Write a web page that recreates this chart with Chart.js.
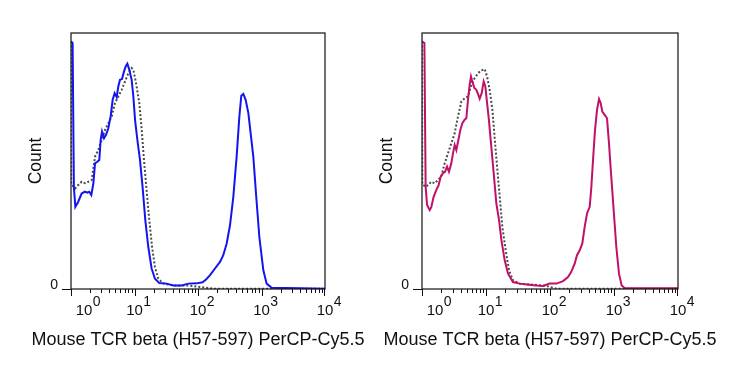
<!DOCTYPE html>
<html>
<head>
<meta charset="utf-8">
<script src="https://cdn.jsdelivr.net/npm/chart.js@4"></script>
<style>
  body { margin: 0; background: #fff; }
  #wrap { position: relative; width: 747px; height: 390px; }
  canvas { position: absolute; top: 0; }
</style>
</head>
<body>
<div id="wrap">
  <canvas id="histA" width="370" height="390" style="left:0px"></canvas>
  <canvas id="histB" width="372" height="390" style="left:351px"></canvas>
</div>
<script>
// values (x = fluorescence, y = % of max count)
const tickDecades = [1, 10, 100, 1000, 10000];
const tickLabels = ['0', '1', '2', '3', '4'];
const axisTitle = 'Mouse TCR beta (H57-597) PerCP-Cy5.5';
const yTitle = 'Count';

const stainA_x = [1.0,1.06,1.11,1.17,1.30,1.47,1.66,1.81,1.94,2.09,2.25,2.39,2.60,2.79,2.93,3.08,3.31,3.56,3.87,4.21,4.53,4.87,5.24,5.56,5.91,6.36,6.84,7.26,7.72,8.29,9.02,9.59,10.2,11.1,12.2,13.4,14.8,16.5,18.6,21.0,24.6,32.1,40.9,55.3,70.5,95.3,118,134,155,185,222,250,283,319,360,406,448,481,517,563,621,675,743,819,924,1069,1206,1445,4036,10000];
const stainA_y = [96.7,96.1,39.9,32.1,34.1,37.3,38.0,37.6,38.0,36.7,41.3,49.1,49.7,50.4,58.2,61.5,58.9,60.2,62.8,67.4,73.9,76.5,74.9,79.1,81.7,82.0,85.0,86.9,88.0,85.6,81.7,75.2,66.1,58.2,50.4,39.9,26.9,16.4,8.0,4.0,2.3,2.1,1.4,1.4,2.1,2.2,2.6,3.7,5.4,8.0,10.6,13.2,17.8,24.9,36.0,51.7,67.4,75.5,76.2,73.9,68.7,60.8,51.7,37.3,20.4,7.3,2.1,0.5,0.3,0.1];
const ctrlA_x = [1.0,1.01,1.16,1.30,1.47,1.66,1.87,2.12,2.39,2.69,3.04,3.43,3.87,4.37,4.93,5.56,6.28,7.09,8.00,9.02,9.59,10.2,10.8,11.9,13.0,14.1,15.5,17.1,18.9,21.0,23.7,28.5,40.9,66.4,107,174,10000];
const ctrlA_y = [96.7,41,39.3,40.6,41.9,41.3,41.9,42.6,51.7,54.3,58.2,62.1,64.8,67.4,72.6,75.2,77.8,81.1,84.3,86.3,85.6,82.4,79.1,72.6,62.1,50.4,38.6,26.9,16.4,8.6,4.0,2.1,1.4,1.4,0.8,0.1,0.1];

const stainB_x = [1.0,1.09,1.14,1.20,1.32,1.40,1.52,1.67,1.82,1.96,2.13,2.29,2.46,2.64,2.87,3.05,3.24,3.44,3.79,3.97,4.27,4.64,4.93,5.23,5.56,5.83,6.11,6.57,7.06,7.59,7.96,8.56,9.20,9.77,10.4,11.1,12.1,13.2,14.5,16.0,17.4,19.6,22.1,26.4,33.6,42.7,61.1,77.8,98.8,126,160,191,215,243,264,291,320,348,379,417,443,470,505,543,583,619,657,715,778,835,898,988,1087,1197,1318,1468,3606,10000];
const stainB_y = [96.7,96.1,39.9,32.8,30.8,32.1,36.0,38.6,40.6,43.9,45.2,45.8,47.8,45.8,49.1,53.0,56.3,54.3,59.5,62.1,64.8,66.1,66.7,73.9,79.8,83.0,81.1,78.5,77.8,75.8,74.3,76.5,81.1,79.1,72.6,66.1,55.6,45.2,33.4,26.9,19.1,11.2,6.0,2.7,2.1,1.8,1.4,1.2,2.1,2.1,3.1,4.7,6.7,9.9,13.2,15.1,17.8,24.3,29.5,32.1,39.9,50.4,62.1,70.0,74.2,72.6,69.3,68.0,66.7,56.9,45.2,30.8,16.4,6.0,1.4,0.4,0.3,0.3];
const ctrlB_x = [1.0,1.01,1.14,1.24,1.40,1.58,1.78,2.00,2.26,2.55,2.87,3.24,3.65,4.12,4.64,5.23,5.90,6.65,7.50,8.45,9.53,10.4,11.4,12.6,13.6,14.9,16.4,18.0,20.3,22.9,26.4,33.6,54.2,87.6,126,10000];
const ctrlB_y = [96.7,41,39.9,40.6,41.9,41.3,42.6,43.9,49.1,53.0,56.9,60.8,67.4,73.2,74.5,75.2,79.8,82.4,84.3,85.4,85.9,83.0,77.8,70.0,59.5,47.8,36.0,24.3,15.1,7.3,3.4,2.1,1.7,1.2,0.1,0.1];

const FONT = '"Liberation Sans", Arial, sans-serif';

function pts(xs, ys) {
  return xs.map((x, i) => ({ x: x, y: ys[i] }));
}

// box, ticks and all text of the FlowJo style plot
const flowAxes = {
  id: 'flowAxes',
  afterDraw(chart) {
    const ctx = chart.ctx;
    const a = chart.chartArea;
    const xs = chart.scales.x, ys = chart.scales.y;
    const y0 = ys.getPixelForValue(0);
    ctx.save();
    ctx.strokeStyle = '#111';
    ctx.lineWidth = 1.2;
    ctx.strokeRect(a.left, a.top, a.right - a.left, a.bottom - a.top);

    ctx.lineWidth = 1;
    ctx.beginPath();
    for (let d = 0; d < 4; d++) {
      for (let k = 1; k <= 9; k++) {
        const px = Math.round(xs.getPixelForValue(k * tickDecades[d])) + 0.5;
        ctx.moveTo(px, a.bottom);
        ctx.lineTo(px, a.bottom + (k === 1 ? 7 : 4));
      }
    }
    const pxEnd = Math.round(xs.getPixelForValue(tickDecades[4])) - 0.5;
    ctx.moveTo(pxEnd, a.bottom);
    ctx.lineTo(pxEnd, a.bottom + 7);
    // y tick at zero
    ctx.moveTo(a.left - 9, Math.round(y0) + 0.5);
    ctx.lineTo(a.left, Math.round(y0) + 0.5);
    ctx.stroke();

    ctx.fillStyle = '#111';
    ctx.textBaseline = 'alphabetic';
    ctx.textAlign = 'left';
    tickDecades.forEach((v, i) => {
      let cx = xs.getPixelForValue(v);
      if (i === 0) cx += 13;
      ctx.font = '15px ' + FONT;
      const w = ctx.measureText('10').width;
      ctx.fillText('10', cx - w / 2, 315);
      ctx.font = '14px ' + FONT;
      ctx.fillText(tickLabels[i], cx + w / 2 + 0.5, 306);
    });

    ctx.font = '14px ' + FONT;
    ctx.textAlign = 'right';
    ctx.textBaseline = 'middle';
    ctx.fillText('0', a.left - 13, y0 - 4);

    ctx.font = '17.5px ' + FONT;
    ctx.textAlign = 'center';
    ctx.textBaseline = 'middle';
    ctx.save();
    ctx.translate(a.left - 35, 161);
    ctx.rotate(-Math.PI / 2);
    ctx.fillText(yTitle, 0, 0);
    ctx.restore();

    ctx.font = '18px ' + FONT;
    ctx.textBaseline = 'alphabetic';
    ctx.fillText(axisTitle, (a.left + a.right) / 2, 344.5);
    ctx.restore();
  }
};

function makeHist(id, stain, ctrl, color) {
  return new Chart(document.getElementById(id), {
    type: 'line',
    data: {
      datasets: [
        {
          data: stain,
          borderColor: color,
          borderWidth: 2,
          pointRadius: 0,
          tension: 0,
          fill: false
        },
        {
          data: ctrl,
          borderColor: '#4a4a4a',
          borderWidth: 2,
          borderDash: [2, 2],
          pointRadius: 0,
          tension: 0,
          fill: false
        }
      ]
    },
    options: {
      responsive: false,
      animation: false,
      devicePixelRatio: 1,
      layout: { padding: { left: 71, top: 33, right: 45, bottom: 101 } },
      plugins: { legend: { display: false }, tooltip: { enabled: false } },
      scales: {
        x: { type: 'logarithmic', min: 1, max: 10000, display: false },
        y: { type: 'linear', min: 0, max: 100, display: false }
      }
    },
    plugins: [flowAxes]
  });
}

makeHist('histA', pts(stainA_x, stainA_y), pts(ctrlA_x, ctrlA_y), '#1414f0');
makeHist('histB', pts(stainB_x, stainB_y), pts(ctrlB_x, ctrlB_y), '#c0106a');
</script>
</body>
</html>
